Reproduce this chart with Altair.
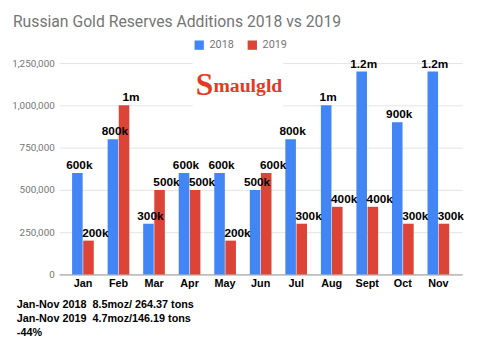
import altair as alt
import pandas as pd

months = ["Jan", "Feb", "Mar", "Apr", "May", "Jun", "Jul", "Aug", "Sept", "Oct", "Nov"]
years = ["2018", "2019"]
values_2018 = [600000, 800000, 300000, 600000, 600000, 500000, 800000, 1000000, 1200000, 900000, 1200000]
values_2019 = [200000, 1000000, 500000, 500000, 200000, 600000, 300000, 400000, 400000, 300000, 300000]
labels_2018 = ["600k", "800k", "300k", "600k", "600k", "500k", "800k", "1m", "1.2m", "900k", "1.2m"]
labels_2019 = ["200k", "1m", "500k", "500k", "200k", "600k", "300k", "400k", "400k", "300k", "300k"]
y_ticks = [0, 250000, 500000, 750000, 1000000, 1250000]
title_text = "Russian Gold Reserves Additions 2018 vs 2019"
notes_text = "Jan-Nov 2018\u00a0\u00a08.5moz/ 264.37 tons\nJan-Nov 2019\u00a0\u00a04.7moz/146.19 tons\n-44%"
logo_s = "S"
logo_rest = "maulgld"
colors = ["#4285f4", "#db4437"]

rows = []
for i, m in enumerate(months):
    rows.append({"month": m, "year": "2018", "value": values_2018[i], "label": labels_2018[i]})
    rows.append({"month": m, "year": "2019", "value": values_2019[i], "label": labels_2019[i]})
df = pd.DataFrame(rows)

base = alt.Chart(df)

x_enc = alt.X(
    "month:N", sort=months, title=None,
    scale=alt.Scale(paddingInner=0.39, paddingOuter=0.365),
    axis=alt.Axis(labelAngle=0, labelFont="Liberation Sans", labelFontWeight="bold",
                  labelFontSize=11, labelColor="#000000", labelPadding=3, ticks=False,
                  domainColor="#999999", grid=False),
)
y_enc = alt.Y(
    "value:Q", scale=alt.Scale(domain=[0, 1250000], nice=False),
    axis=alt.Axis(values=y_ticks, format=",d", title=None, labelFont="Roboto", labelFontSize=10,
                  labelColor="#757575", labelPadding=5, ticks=False, domain=False,
                  gridColor="#e3e3e3"),
)
xoff = alt.XOffset("year:N", sort=years, scale=alt.Scale(paddingInner=0.05))

bars = base.mark_bar().encode(
    x=x_enc, y=y_enc, xOffset=xoff,
    color=alt.Color("year:N", scale=alt.Scale(domain=years, range=colors),
                    legend=alt.Legend(orient="none", legendX=137, legendY=-24, direction="horizontal",
                                      title=None, symbolType="square", symbolSize=90,
                                      labelFontSize=11, labelColor="#757575", labelFont="Roboto",
                                      columnPadding=13, labelOffset=5, symbolStrokeWidth=0)),
)

def label_layer(year, dx):
    return base.transform_filter(alt.datum.year == year).mark_text(
        font="Liberation Sans", fontWeight="bold", fontSize=12, color="#000000",
        dy=-4, dx=dx, baseline="alphabetic", align="center",
    ).encode(x=x_enc, y=y_enc, xOffset=xoff, text="label:N")

lab18 = label_layer("2018", 2)
lab19 = label_layer("2019", 7)

one = pd.DataFrame({"k": [0]})
title = alt.Chart(one).mark_text(
    text=title_text, font="Roboto", fontSize=16, color="#757575", align="left", baseline="alphabetic"
).encode(x=alt.value(-47), y=alt.value(-37))

notes = alt.Chart(one).mark_text(
    text=notes_text, font="Liberation Sans", fontWeight="bold", fontSize=11, color="#000000",
    align="left", baseline="alphabetic", lineBreak="\n", lineHeight=14.3,
).encode(x=alt.value(-43), y=alt.value(249))

logo_bg = alt.Chart(one).mark_rect(color="white").encode(
    x=alt.value(136), x2=alt.value(228), y=alt.value(-5), y2=alt.value(49)
)
logo1 = alt.Chart(one).mark_text(
    text=logo_s, font="Liberation Serif", fontWeight="bold", fontSize=32, color="#e53a22",
    align="left", baseline="alphabetic",
).encode(x=alt.value(139), y=alt.value(32))
logo2 = alt.Chart(one).mark_text(
    text=logo_rest, font="Liberation Serif", fontWeight="bold", fontSize=20, color="#e53a22",
    align="left", baseline="alphabetic",
).encode(x=alt.value(157), y=alt.value(29))

chart = alt.layer(logo_bg, bars, lab18, lab19, title, notes, logo1, logo2).properties(
    width=410, height=215,
    autosize=alt.AutoSizeParams(type="none"),
    padding={"left": 52, "top": 53, "right": 10, "bottom": 84},
    background="white",
).configure_view(stroke=None)

chart.save("out.html", embed_options={"renderer": "svg", "actions": False})
